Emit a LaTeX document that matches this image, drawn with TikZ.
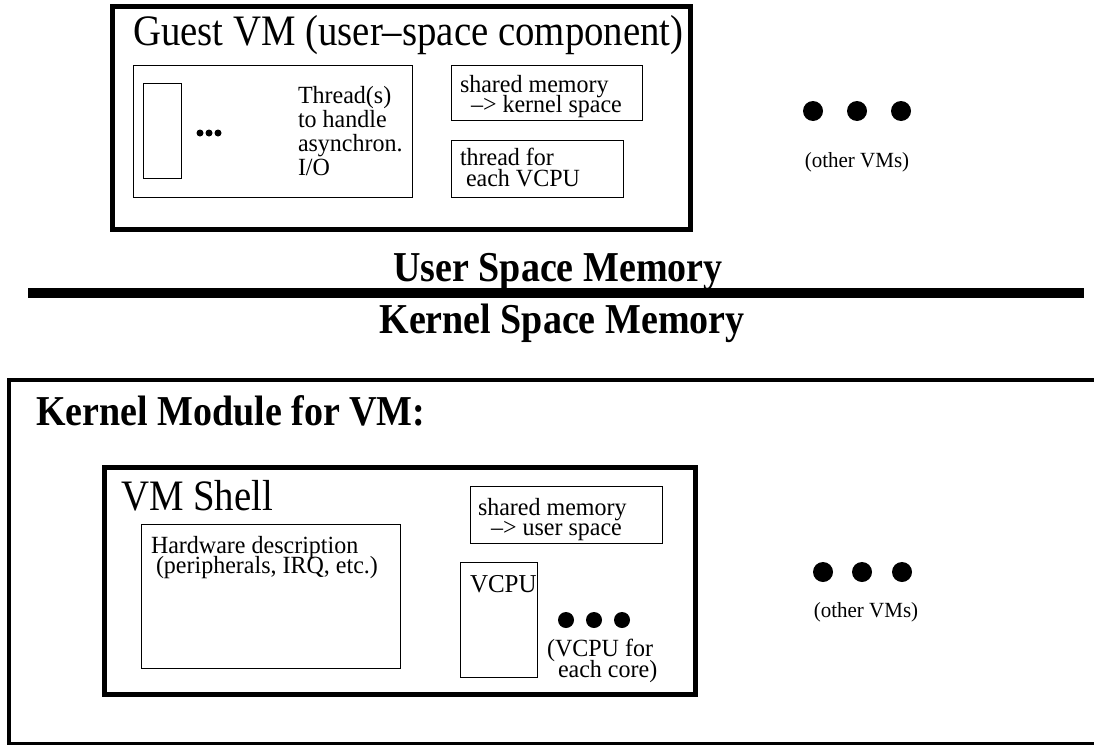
\documentclass[tikz,border=0pt]{standalone}
\usepackage{fontspec}
\usepackage{graphicx}
\setmainfont{Liberation Serif}
\newcommand\ts[1]{\scalebox{1}[1.12]{#1}}
\newcommand\tss[1]{\scalebox{1}[1.03]{#1}}
\begin{document}
\begin{tikzpicture}[x=1pt,y=-1pt,
  bx/.style={draw=black,line width=1pt,inner sep=0pt,outer sep=0pt,rectangle},
  thickbx/.style={draw=black,line width=5pt,inner sep=0pt,outer sep=0pt,rectangle},
  txt/.style={inner sep=0pt,outer sep=0pt,anchor=base west,font=\fontsize{24}{26}\selectfont},
  big/.style={inner sep=0pt,outer sep=0pt,anchor=base west,font=\fontsize{38.8}{40}\selectfont},
  bigbold/.style={inner sep=0pt,outer sep=0pt,anchor=base,font=\fontsize{38}{40}\selectfont\bfseries},
  bigdot/.style={circle,fill=black,inner sep=0pt,minimum size=20pt},
  middot/.style={circle,fill=black,inner sep=0pt,minimum size=16pt},
  smalldot/.style={circle,fill=black,inner sep=0pt,minimum size=7pt},
  other/.style={inner sep=0pt,outer sep=0pt,anchor=base,font=\fontsize{21}{23}\selectfont}]
\newcommand\rbox[6]{\node[#2,minimum width={(#5-#3)*1pt},minimum height={(#6-#4)*1pt}] (#1) at ({(#3+#5)/2},{(#4+#6)/2}) {};}
\useasboundingbox (0,0) rectangle (1094,744);
\clip (0,0) rectangle (1094,744);
% ---------- user space ----------
\rbox{guest}{thickbx}{112}{6}{690}{229}
\node[big] (gtitle) at (133,45) {\ts{Guest VM (user–space component)}};
\rbox{thrbox}{bx}{133}{65}{412}{197}
\rbox{thr}{bx}{143}{83}{181}{178}
\node[smalldot] (sd1) at (200,133) {};
\node[smalldot] (sd2) at (209,133) {};
\node[smalldot] (sd3) at (218,133) {};
\node[txt] (t1) at (298,103) {\tss{Thread(s)}};
\node[txt] (t2) at (298,127) {\tss{to handle}};
\node[txt] (t3) at (298,151) {\tss{asynchron.}};
\node[txt] (t4) at (298,175) {\tss{I/O}};
\rbox{shmk}{bx}{451}{65}{642}{120}
\node[txt] (s1) at (460,92) {\tss{shared memory}};
\node[txt] (s2) at (471,112) {\tss{–> kernel space}};
\rbox{vth}{bx}{451}{140}{623}{197}
\node[txt] (v1) at (460,165) {\tss{thread for}};
\node[txt] (v2) at (466,186) {\tss{each VCPU}};
\node[bigdot] (od1) at (813,111) {};
\node[bigdot] (od2) at (857,111) {};
\node[bigdot] (od3) at (901,111) {};
\node[other] (ovm1) at (857,167) {\tss{(other VMs)}};
% ---------- separator ----------
\node[bigbold] (usm) at (558,281) {\ts{User Space Memory}};
\coordinate (sepL) at (28,293);
\coordinate (sepR) at (1084,293);
\draw[line width=10pt] (sepL) -- (sepR);
\node[bigbold] (ksm) at (562,333) {\ts{Kernel Space Memory}};
% ---------- kernel space ----------
\node[draw=black,line width=3.5pt,inner sep=0pt,outer sep=0pt,minimum width=1121pt,minimum height=363.5pt] (kmod) at ({(9+1130)/2},{(380+743.5)/2}) {};
\node[inner sep=0pt,outer sep=0pt,anchor=base west,font=\fontsize{38}{40}\selectfont\bfseries] (ktitle) at (36,425) {\ts{Kernel Module for VM:}};
\rbox{shell}{thickbx}{104}{467}{695}{694}
\node[big] (shtitle) at (121,510) {\ts{VM Shell}};
\rbox{hw}{bx}{141}{524}{400}{668}
\node[txt] (h1) at (151,553) {\tss{Hardware description}};
\node[txt] (h2) at (156,573) {\tss{(peripherals, IRQ, etc.)}};
\rbox{shmu}{bx}{470}{486}{662}{543}
\node[txt] (u1) at (478,515) {\tss{shared memory}};
\node[txt] (u2) at (491,535) {\tss{–> user space}};
\rbox{vcpu}{bx}{460}{562}{537}{677}
\node[txt,font=\fontsize{25}{27}\selectfont] (vl) at (470,592) {\tss{VCPU}};
\node[middot] (cd1) at (566,620) {};
\node[middot] (cd2) at (594,620) {};
\node[middot] (cd3) at (622,620) {};
\node[txt] (c1) at (547,656) {\tss{(VCPU for}};
\node[txt] (c2) at (558,677) {\tss{each core)}};
\node[bigdot] (kd1) at (823,572) {};
\node[bigdot] (kd2) at (862,572) {};
\node[bigdot] (kd3) at (902,572) {};
\node[other] (ovm2) at (866,617) {\tss{(other VMs)}};
\end{tikzpicture}
\end{document}
